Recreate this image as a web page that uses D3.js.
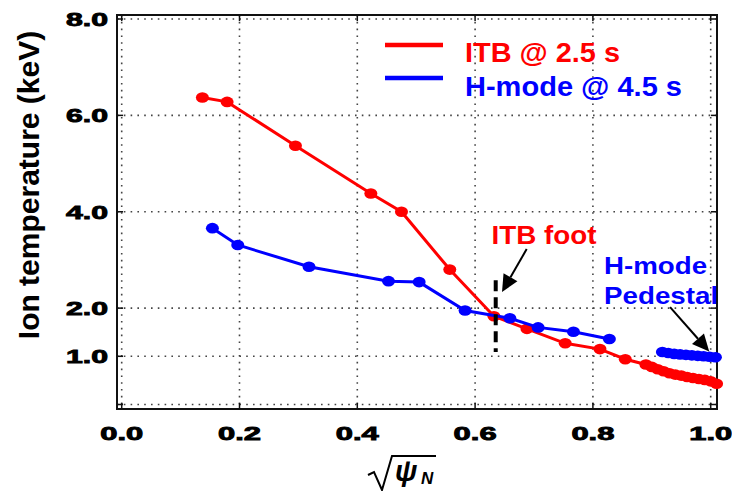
<!DOCTYPE html>
<html lang="en">
  <head>
    <meta charset="utf-8">
    <title>Ion temperature</title>
    <style>
      body { margin: 0; background: #fff; }
      svg text { font-family: "Liberation Sans", Arial, sans-serif; font-weight: bold; }
    </style>
  </head>
  <body>
    <svg class="chart"></svg>
    <script src="https://d3js.org/d3.v7.min.js"></script>
    <script>
      // sqrt(psi_N), Ti (keV)
      const itbX = [0.137, 0.179, 0.295, 0.423, 0.475, 0.557, 0.632, 0.688, 0.753, 0.812, 0.855,
                    0.890, 0.900, 0.910, 0.920, 0.930, 0.940, 0.950, 0.960, 0.970, 0.980, 0.990, 1.000, 1.010];
      const itbY = [6.37, 6.28, 5.37, 4.38, 4.00, 2.80, 1.83, 1.57, 1.27, 1.15, 0.94,
                    0.83, 0.78, 0.73, 0.69, 0.65, 0.62, 0.60, 0.57, 0.55, 0.53, 0.51, 0.48, 0.43];
      const hmodeX = [0.154, 0.197, 0.318, 0.453, 0.505, 0.583, 0.659, 0.707, 0.767, 0.828];
      const hmodeY = [3.66, 3.31, 2.86, 2.56, 2.54, 1.95, 1.79, 1.60, 1.51, 1.36];
      const pedX = [0.918, 0.928, 0.938, 0.948, 0.958, 0.968, 0.978, 0.988, 0.998, 1.008];
      const pedY = [1.09, 1.07, 1.05, 1.04, 1.03, 1.02, 1.01, 1.00, 0.99, 0.98];
      const xTicks = [0.0, 0.2, 0.4, 0.6, 0.8, 1.0];
      const yTicks = [0, 1, 2, 4, 6, 8];
      const yLabels = [1, 2, 4, 6, 8];
      const legendNames = ["ITB @ 2.5 s", "H-mode @ 4.5 s"];
      const colors = ["#ff0000", "#0000ff"];

      const W = 732, H = 491;
      const frame = {left: 117, right: 717, top: 15, bottom: 409};
      const svg = d3.select(".chart").attr("width", W).attr("height", H);

      const x = d3.scaleLinear().domain([0, 1]).range([121.7, 710.7]);
      const y = d3.scaleLinear().domain([0, 8]).range([404.5, 19]);

      // dotted grid
      const grid = svg.append("g").attr("stroke", "#444").attr("stroke-width", 1.6)
        .attr("stroke-dasharray", "1.6,5.2");
      grid.selectAll(".vg").data(xTicks).enter().append("line")
        .attr("x1", d => x(d)).attr("x2", d => x(d))
        .attr("y1", frame.top).attr("y2", frame.bottom);
      grid.selectAll(".hg").data(yTicks).enter().append("line")
        .attr("y1", d => y(d)).attr("y2", d => y(d))
        .attr("x1", frame.left).attr("x2", frame.right);

      // frame + inward ticks
      svg.append("rect").attr("x", frame.left).attr("y", frame.top)
        .attr("width", frame.right - frame.left).attr("height", frame.bottom - frame.top)
        .attr("fill", "none").attr("stroke", "#111").attr("stroke-width", 2);
      const tk = svg.append("g").attr("stroke", "#111").attr("stroke-width", 1.5);
      xTicks.forEach(d => {
        tk.append("line").attr("x1", x(d)).attr("x2", x(d)).attr("y1", frame.bottom).attr("y2", frame.bottom - 6);
        tk.append("line").attr("x1", x(d)).attr("x2", x(d)).attr("y1", frame.top).attr("y2", frame.top + 6);
      });
      yTicks.forEach(d => {
        tk.append("line").attr("y1", y(d)).attr("y2", y(d)).attr("x1", frame.left).attr("x2", frame.left + 6);
        tk.append("line").attr("y1", y(d)).attr("y2", y(d)).attr("x1", frame.right).attr("x2", frame.right - 6);
      });

      // tick labels (wide, heavy glyphs)
      svg.selectAll(".xl").data(xTicks).enter().append("text")
        .attr("x", d => x(d)).attr("y", 440).attr("text-anchor", "middle")
        .attr("font-size", 19).attr("textLength", 43).attr("lengthAdjust", "spacingAndGlyphs")
        .attr("stroke", "#000").attr("stroke-width", 0.9)
        .text(d => d.toFixed(1));
      svg.selectAll(".yl").data(yLabels).enter().append("text")
        .attr("x", 108).attr("y", d => y(d) + 7).attr("text-anchor", "end")
        .attr("font-size", 19).attr("textLength", 42).attr("lengthAdjust", "spacingAndGlyphs")
        .attr("stroke", "#000").attr("stroke-width", 0.9)
        .text(d => d.toFixed(1));

      // axis titles
      svg.append("text").attr("transform", "translate(39,185) rotate(-90)")
        .attr("text-anchor", "middle").attr("font-size", 30).text("Ion temperature (keV)");
      const xt = svg.append("g");
      xt.append("path").attr("d", "M368,475 L374,472 L382,490 L392,456 L436,456")
        .attr("fill", "none").attr("stroke", "#000").attr("stroke-width", 2);
      xt.append("text").attr("x", 395).attr("y", 481)
        .attr("font-family", "DejaVu Serif").attr("font-style", "italic")
        .attr("font-size", 29).text("ψ");
      xt.append("text").attr("x", 421).attr("y", 484)
        .attr("font-family", "DejaVu Serif").attr("font-style", "italic")
        .attr("font-size", 17).text("N");

      // series
      const line = d3.line().x(d => x(d[0])).y(d => y(d[1]));
      const series = [
        {pts: d3.zip(itbX, itbY), c: colors[0]},
        {pts: d3.zip(hmodeX, hmodeY), c: colors[1]},
        {pts: d3.zip(pedX, pedY), c: colors[1]}
      ];
      series.forEach(s => {
        svg.append("path").datum(s.pts).attr("d", line)
          .attr("fill", "none").attr("stroke", s.c).attr("stroke-width", 3);
        svg.append("g").selectAll("ellipse").data(s.pts).enter().append("ellipse")
          .attr("cx", d => x(d[0])).attr("cy", d => y(d[1]))
          .attr("rx", 6.5).attr("ry", 5.3).attr("fill", s.c);
      });

      // ITB foot dashed line
      svg.append("line").attr("x1", x(0.635)).attr("x2", x(0.635))
        .attr("y1", y(2.58)).attr("y2", y(1.09))
        .attr("stroke", "#000").attr("stroke-width", 4).attr("stroke-dasharray", "11,6");

      // arrows
      function arrow(x0, y0, x1, y1) {
        const px0 = x(x0), py0 = y(y0), px1 = x(x1), py1 = y(y1);
        const a = Math.atan2(py1 - py0, px1 - px0);
        const L = 17, w = 8;
        const bx = px1 - L * Math.cos(a), by = py1 - L * Math.sin(a);
        svg.append("line").attr("x1", px0).attr("y1", py0).attr("x2", bx).attr("y2", by)
          .attr("stroke", "#000").attr("stroke-width", 2);
        const pts = [[px1, py1],
          [bx + w * Math.sin(a), by - w * Math.cos(a)],
          [bx - w * Math.sin(a), by + w * Math.cos(a)]];
        svg.append("polygon").attr("points", pts.map(p => p.join(",")).join(" ")).attr("fill", "#000");
      }
      arrow(0.6876, 3.226, 0.6457, 2.334);
      arrow(0.931, 2.02, 0.9975, 1.10);

      // annotations
      svg.append("text").attr("x", x(0.628)).attr("y", y(3.34)).attr("fill", colors[0])
        .attr("font-size", 26).attr("textLength", 105).attr("lengthAdjust", "spacingAndGlyphs")
        .text("ITB foot");
      svg.append("text").attr("x", x(0.819)).attr("y", y(2.707)).attr("fill", colors[1])
        .attr("font-size", 24).attr("textLength", 103).attr("lengthAdjust", "spacingAndGlyphs")
        .text("H-mode");
      svg.append("text").attr("x", x(0.819)).attr("y", y(2.08)).attr("fill", colors[1])
        .attr("font-size", 24).attr("textLength", 114).attr("lengthAdjust", "spacingAndGlyphs")
        .text("Pedestal");

      // legend
      const legend = svg.append("g").attr("id", "legend");
      const lens = [155, 217];
      legendNames.forEach((n, i) => {
        legend.append("line").attr("x1", 385).attr("x2", 443)
          .attr("y1", 45 + i * 33).attr("y2", 45 + i * 33)
          .attr("stroke", colors[i]).attr("stroke-width", 4.5);
        legend.append("text").attr("x", 465).attr("y", 62 + i * 34)
          .attr("fill", colors[i]).attr("font-size", 28)
          .attr("textLength", lens[i]).attr("lengthAdjust", "spacingAndGlyphs")
          .text(n);
      });
    </script>
  </body>
</html>
